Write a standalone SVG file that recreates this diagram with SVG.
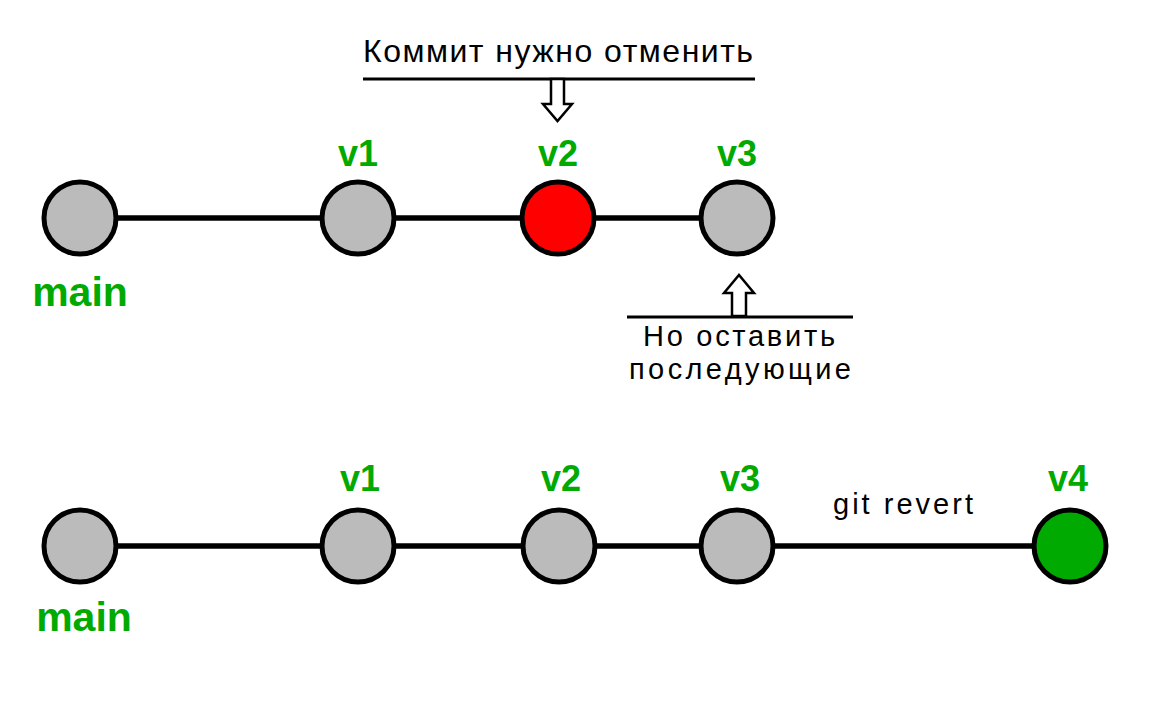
<svg xmlns="http://www.w3.org/2000/svg" width="1160" height="715" viewBox="0 0 1160 715">
<style>
.bg{fill:#ffffff}
.edge{stroke:#000;stroke-width:5.5;fill:none}
.node{stroke:#000;stroke-width:5}
.gray{fill:#bbbbbb}
.red{fill:#ff0000}
.green{fill:#00aa00}
.lbl{font-family:"Liberation Sans",Arial,sans-serif;font-weight:bold;fill:#00aa00;text-anchor:middle}
.v{font-size:36px}
.m{font-size:41px}
.note{font-family:"Liberation Sans",Arial,sans-serif;fill:#000;text-anchor:middle}
.rule{stroke:#000;stroke-width:3}
.arrow{fill:#fff;stroke:#000;stroke-width:2.5;stroke-linejoin:miter}
</style>
<rect class="bg" x="0" y="0" width="1160" height="715"/>
<g id="connectors">
  <line class="edge" x1="80" y1="218" x2="736" y2="218"/>
  <line class="edge" x1="80" y1="546" x2="1070" y2="546"/>
</g>
<g id="top-main"><circle class="node gray" cx="80" cy="218" r="36"/><text class="lbl m" x="80" y="306">main</text></g>
<g id="top-v1"><circle class="node gray" cx="358" cy="218" r="36"/><text class="lbl v" x="358" y="166">v1</text></g>
<g id="top-v2"><circle class="node red" cx="558" cy="218" r="36"/><text class="lbl v" x="558" y="166">v2</text></g>
<g id="top-v3"><circle class="node gray" cx="737" cy="218" r="36"/><text class="lbl v" x="737" y="166">v3</text></g>
<g id="bottom-main"><circle class="node gray" cx="80" cy="546" r="36"/><text class="lbl m" x="84" y="631">main</text></g>
<g id="bottom-v1"><circle class="node gray" cx="358" cy="546" r="36"/><text class="lbl v" x="360" y="491">v1</text></g>
<g id="bottom-v2"><circle class="node gray" cx="559" cy="546" r="36"/><text class="lbl v" x="561" y="491">v2</text></g>
<g id="bottom-v3"><circle class="node gray" cx="737" cy="546" r="36"/><text class="lbl v" x="740" y="491">v3</text></g>
<g id="bottom-v4"><circle class="node green" cx="1070" cy="546" r="36"/><text class="lbl v" x="1068" y="491">v4</text></g>
<g id="note-top">
  <text class="note" x="558" y="62" font-size="32" textLength="390" lengthAdjust="spacing">Коммит нужно отменить</text>
  <line class="rule" x1="363" y1="79" x2="755" y2="79"/>
  <polygon class="arrow" points="551,79 551,104 543,104 557.5,121 572,104 564,104 564,79"/>
</g>
<g id="note-bottom">
  <polygon class="arrow" points="732,316 732,293 724,293 739,275 754,293 746,293 746,316"/>
  <line class="rule" x1="627" y1="317" x2="853" y2="317"/>
  <text class="note" x="739" y="346" font-size="29" textLength="192" lengthAdjust="spacing">Но оставить</text>
  <text class="note" x="740" y="379" font-size="29" textLength="222" lengthAdjust="spacing">последующие</text>
</g>
<g id="label-revert">
  <text class="note" x="903" y="514" font-size="29" textLength="140" lengthAdjust="spacing">git revert</text>
</g>
</svg>
